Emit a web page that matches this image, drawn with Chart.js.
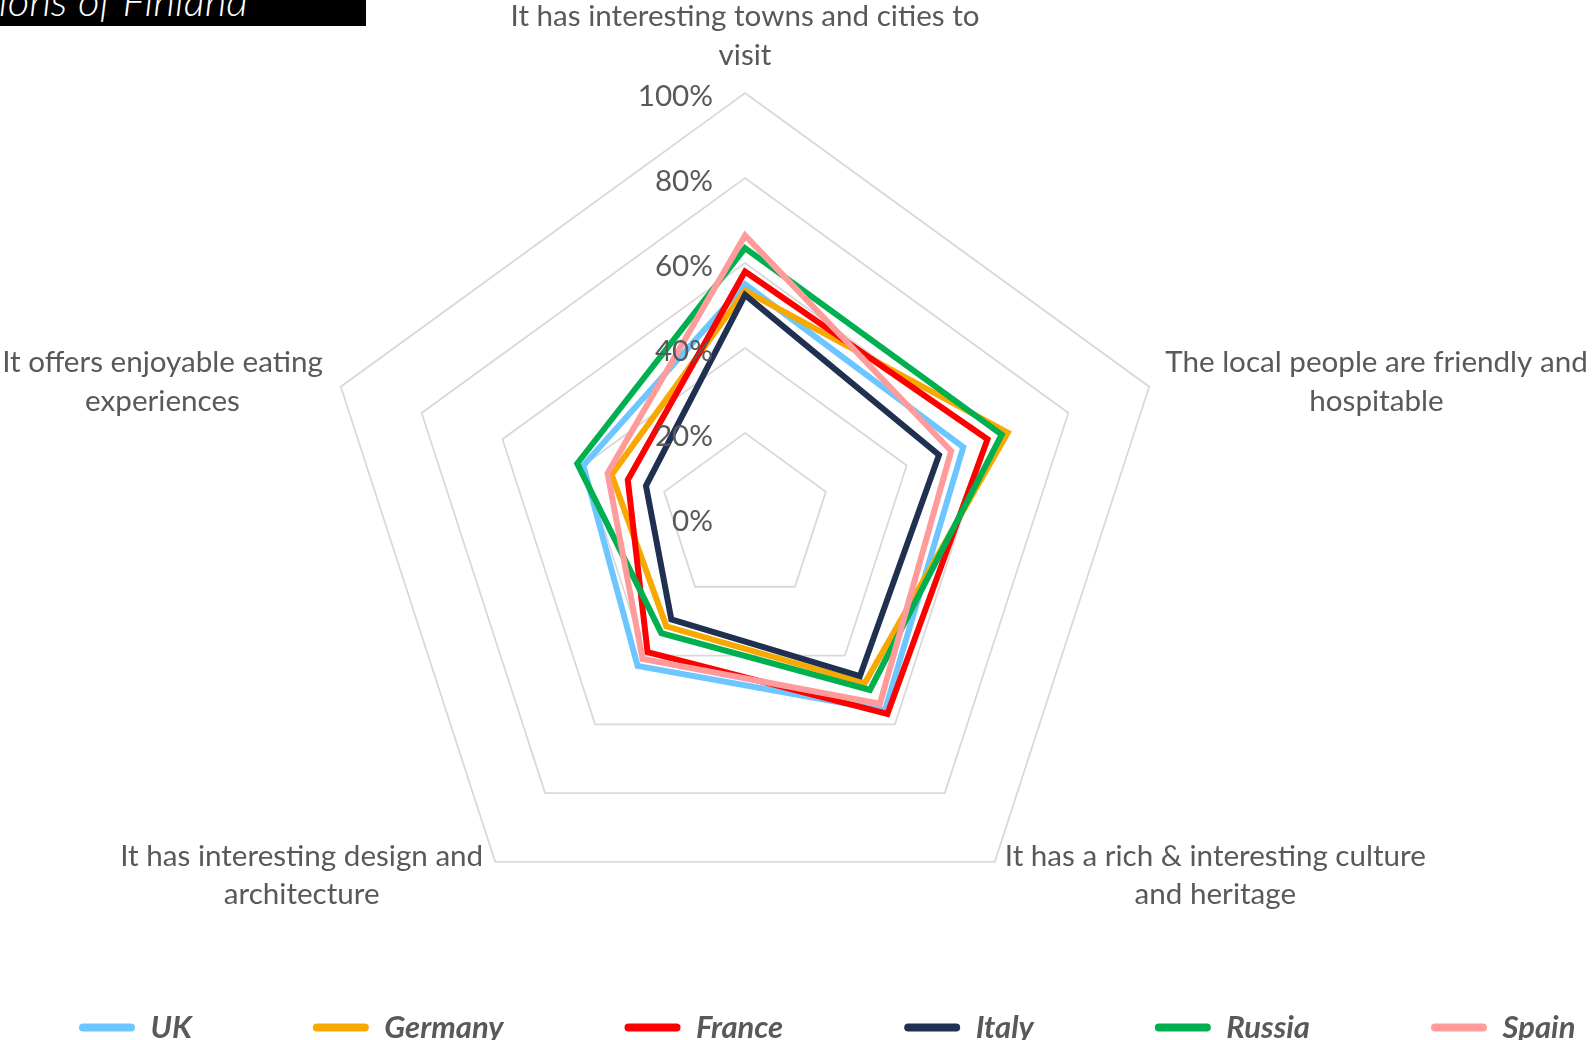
<!DOCTYPE html>
<html><head><meta charset="utf-8">
<script src="https://cdn.jsdelivr.net/npm/chart.js@4.4.1/dist/chart.umd.min.js"></script>
<style>
html,body{margin:0;padding:0;background:#fff;}
#wrap{position:relative;width:1592px;height:1040px;overflow:hidden;}
#c{position:absolute;left:0;top:0;}
#title{position:absolute;left:0;top:0;width:366px;height:26px;background:#000;overflow:hidden;}
#title span{position:absolute;right:118px;top:-21px;font-family:Lato;font-style:italic;font-weight:300;font-size:42px;line-height:42px;color:#fff;white-space:nowrap;}
</style></head>
<body><div id="wrap"><canvas id="c" width="1592" height="1040"></canvas><div id="title"><span>ions of Finland</span></div></div>
<script>
// ---- data ----
const categories = [
  ["It has interesting towns and cities to", "visit"],
  ["The local people are friendly and", "hospitable"],
  ["It has a rich & interesting culture", "and heritage"],
  ["It has interesting design and", "architecture"],
  ["It offers enjoyable eating", "experiences"]
];
const seriesNames = ["UK", "Germany", "France", "Italy", "Russia", "Spain"];
const ukValues      = [55, 54, 56, 43, 40];
const germanyValues = [53.5, 65, 48, 31.5, 33];
const franceValues  = [58, 60, 57, 39, 29];
const italyValues   = [52.5, 48, 46, 29.5, 24.5];
const russiaValues  = [63.5, 63.5, 50, 33.5, 41.5];
const spainValues   = [66.5, 51, 54, 41, 34];
const tickValues    = [0, 20, 40, 60, 80, 100];

// ---- styles ----
const seriesValues = [ukValues, germanyValues, franceValues, italyValues, russiaValues, spainValues];
const seriesColors = ["#6DC6FF", "#F7A900", "#FF0000", "#1F3050", "#00B050", "#FF9B9B"];
const TEXT = "#595959";
const FONT = "Lato";
const AXIS_FONT_SIZE = 29.6;
const LINE_H = 38.5;

const pointLabelLayout = [
  {align: "center", dx: 0,   dy: -76.5},
  {align: "left",   dx: 16,  dy: -24},
  {align: "left",   dx: 10,  dy: -5.5},
  {align: "right",  dx: -12, dy: -5.5},
  {align: "right",  dx: -18, dy: -24}
];

const labelsPlugin = {
  id: "customLabels",
  afterDatasetsDraw(chart) {
    const s = chart.scales.r;
    const ctx = chart.ctx;
    ctx.save();
    ctx.fillStyle = TEXT;
    ctx.textBaseline = "middle";
    ctx.font = "400 " + AXIS_FONT_SIZE + "px " + FONT;
    // tick labels
    ctx.textAlign = "right";
    s.ticks.forEach(t => {
      if (!tickValues.includes(t.value)) return;
      const d = s.getDistanceFromCenterForValue(t.value);
      ctx.fillText(t.value + "%", s.xCenter - 32, s.yCenter - d + 3);
    });
    // point labels
    chart.data.labels.forEach((lines, i) => {
      const p = s.getPointPosition(i, s.drawingArea);
      const L = pointLabelLayout[i];
      const w = Math.max(...lines.map(l => ctx.measureText(l).width));
      let cx;
      if (L.align === "center") cx = p.x + L.dx;
      else if (L.align === "left") cx = p.x + L.dx + w / 2;
      else cx = p.x + L.dx - w / 2;
      ctx.textAlign = "center";
      lines.forEach((ln, k) => ctx.fillText(ln, cx, p.y + L.dy + k * LINE_H));
    });
    ctx.restore();
  }
};

const baseGen = Chart.defaults.plugins.legend.labels.generateLabels;

new Chart(document.getElementById("c"), {
  type: "radar",
  data: {
    labels: categories,
    datasets: seriesNames.map((name, i) => ({
      label: name,
      data: seriesValues[i],
      borderColor: seriesColors[i],
      backgroundColor: seriesColors[i],
      fill: false,
      borderWidth: 6,
      borderJoinStyle: "miter",
      pointRadius: 0,
      pointHoverRadius: 0,
      tension: 0,
      clip: false,
      order: seriesNames.length - i
    }))
  },
  options: {
    responsive: false,
    devicePixelRatio: 1,
    animation: false,
    events: [],
    layout: {padding: {left: -42, right: -400, top: 0, bottom: -13}},
    scales: {
      r: {
        min: 0, max: 100,
        ticks: {display: false, stepSize: 20},
        grid: {color: "#D9D9D9", lineWidth: 1.8},
        angleLines: {display: false},
        pointLabels: {display: false},
        afterFit(scale) {
          scale.xCenter = 745;
          scale.yCenter = 518;
          scale.drawingArea = 425;
        }
      }
    },
    plugins: {
      title: {display: false},
      tooltip: {enabled: false},
      legend: {
        position: "bottom",
        align: "start",
        labels: {
          color: TEXT,
          font: {family: FONT, size: 31, weight: "bold", style: "italic"},
          boxWidth: 56,
          boxHeight: 8,
          useBorderRadius: true,
          borderRadius: 4,
          padding: 121,
          sort: (a, b) => a.datasetIndex - b.datasetIndex,
          generateLabels(chart) {
            return baseGen(chart).map(l => Object.assign(l, {lineWidth: 0}));
          }
        }
      }
    }
  },
  plugins: [labelsPlugin]
});
</script>
</body></html>
